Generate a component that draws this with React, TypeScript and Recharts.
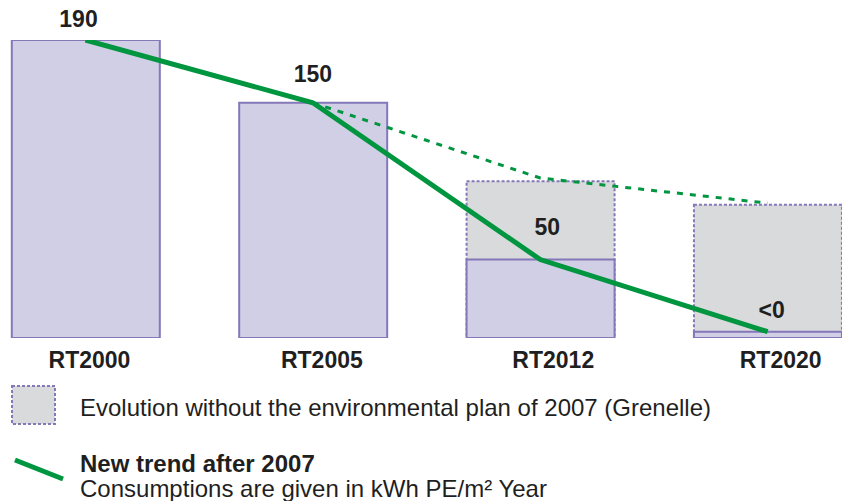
import { Bar, ComposedChart, LabelList, Line, XAxis, YAxis } from 'recharts'

const CATEGORIES = ['RT2000', 'RT2005', 'RT2012', 'RT2020']
const REGULATION = [190, 150, 50, 4] // purple bars
const WITHOUT_PLAN = [null, null, 100, 85] // grey dashed bars
const NEW_TREND = [190, 150, 50, 4] // solid green line
const OLD_TREND = [null, 150, 102, 86] // dotted green line
const VALUE_LABELS = ['190', '150', '50', '<0']

const PURPLE_FILL = '#d1cfe5'
const PURPLE_STROKE = '#8478b9'
const GREY_FILL = '#d9dadc'
const GREEN = '#00953f'
const TEXT = '#1f1f1f'
const FONT = "'Liberation Sans', Arial, sans-serif"

// label nudges relative to the line points, same order as VALUE_LABELS
const LABEL_SHIFT = [
    [-7, -13],
    [0, -21],
    [7, -25],
    [4, -14],
]
const TICK_DX = [4, 9, 13, 13]

const data = CATEGORIES.map((name, i) => ({
    pos: i,
    name,
    regulation: REGULATION[i],
    withoutPlan: WITHOUT_PLAN[i],
    newTrend: NEW_TREND[i],
    oldTrend: OLD_TREND[i],
    label: VALUE_LABELS[i],
}))

function ValueLabel(props: any) {
    const { x, y, value } = props
    const i = VALUE_LABELS.indexOf(String(value))
    const [dx, dy] = LABEL_SHIFT[i] ?? [0, -15]
    return (
        <text
            x={x + dx}
            y={y + dy}
            textAnchor='middle'
            fontFamily={FONT}
            fontWeight='bold'
            fontSize={23}
            fill={TEXT}
        >
            {value}
        </text>
    )
}

function CategoryTick(props: any) {
    const { x, y, payload } = props
    const i = payload.value as number
    return (
        <text
            x={x + (TICK_DX[i] ?? 0)}
            y={y + 22}
            textAnchor='middle'
            fontFamily={FONT}
            fontWeight='bold'
            fontSize={23}
            fill={TEXT}
        >
            {CATEGORIES[i]}
        </text>
    )
}

function Legend() {
    return (
        <svg
            width={842}
            height={501}
            style={{ position: 'absolute', left: 0, top: 0, pointerEvents: 'none' }}
        >
            <rect
                x={12}
                y={386}
                width={43}
                height={38}
                fill={GREY_FILL}
                stroke={PURPLE_STROKE}
                strokeWidth={2}
                strokeDasharray='3 2'
            />
            <text x={80} y={416} fontFamily={FONT} fontSize={24} fill={TEXT}>
                Evolution without the environmental plan of 2007 (Grenelle)
            </text>
            <line x1={15} y1={460} x2={63} y2={479} stroke={GREEN} strokeWidth={5} />
            <text x={80} y={472} fontFamily={FONT} fontSize={24} fontWeight='bold' fill={TEXT}>
                New trend after 2007
            </text>
            <text x={80} y={497} fontFamily={FONT} fontSize={24} fill={TEXT}>
                Consumptions are given in kWh PE/m² Year
            </text>
        </svg>
    )
}

export default function App() {
    const domain = [-0.376, 3.327]
    return (
        <div
            style={{
                position: 'absolute',
                left: 0,
                top: 0,
                width: 842,
                height: 501,
                background: '#fff',
                overflow: 'hidden',
            }}
        >
            <ComposedChart
                width={842}
                height={380}
                data={data}
                margin={{ top: 40, right: 0, bottom: 0, left: 0 }}
            >
                <XAxis
                    dataKey='pos'
                    type='number'
                    domain={domain}
                    ticks={[0, 1, 2, 3]}
                    tick={<CategoryTick />}
                    axisLine={false}
                    tickLine={false}
                    height={42}
                    allowDataOverflow
                />
                <XAxis
                    xAxisId='back'
                    dataKey='pos'
                    type='number'
                    domain={domain}
                    hide
                    allowDataOverflow
                />
                <YAxis hide domain={[0, 190]} allowDataOverflow />
                <YAxis yAxisId='back' hide domain={[0, 190]} allowDataOverflow />
                <Bar
                    xAxisId='back'
                    yAxisId='back'
                    dataKey='withoutPlan'
                    barSize={148}
                    fill={GREY_FILL}
                    stroke={PURPLE_STROKE}
                    strokeWidth={2}
                    strokeDasharray='3 2'
                    isAnimationActive={false}
                />
                <Bar
                    dataKey='regulation'
                    barSize={148}
                    fill={PURPLE_FILL}
                    stroke={PURPLE_STROKE}
                    strokeWidth={2}
                    isAnimationActive={false}
                />
                <Line
                    dataKey='oldTrend'
                    type='linear'
                    stroke={GREEN}
                    strokeWidth={3}
                    strokeDasharray='6 7'
                    dot={false}
                    activeDot={false}
                    connectNulls={false}
                    isAnimationActive={false}
                />
                <Line
                    dataKey='newTrend'
                    type='linear'
                    stroke={GREEN}
                    strokeWidth={5}
                    dot={false}
                    activeDot={false}
                    isAnimationActive={false}
                >
                    <LabelList dataKey='label' content={<ValueLabel />} />
                </Line>
            </ComposedChart>
            <Legend />
        </div>
    )
}
